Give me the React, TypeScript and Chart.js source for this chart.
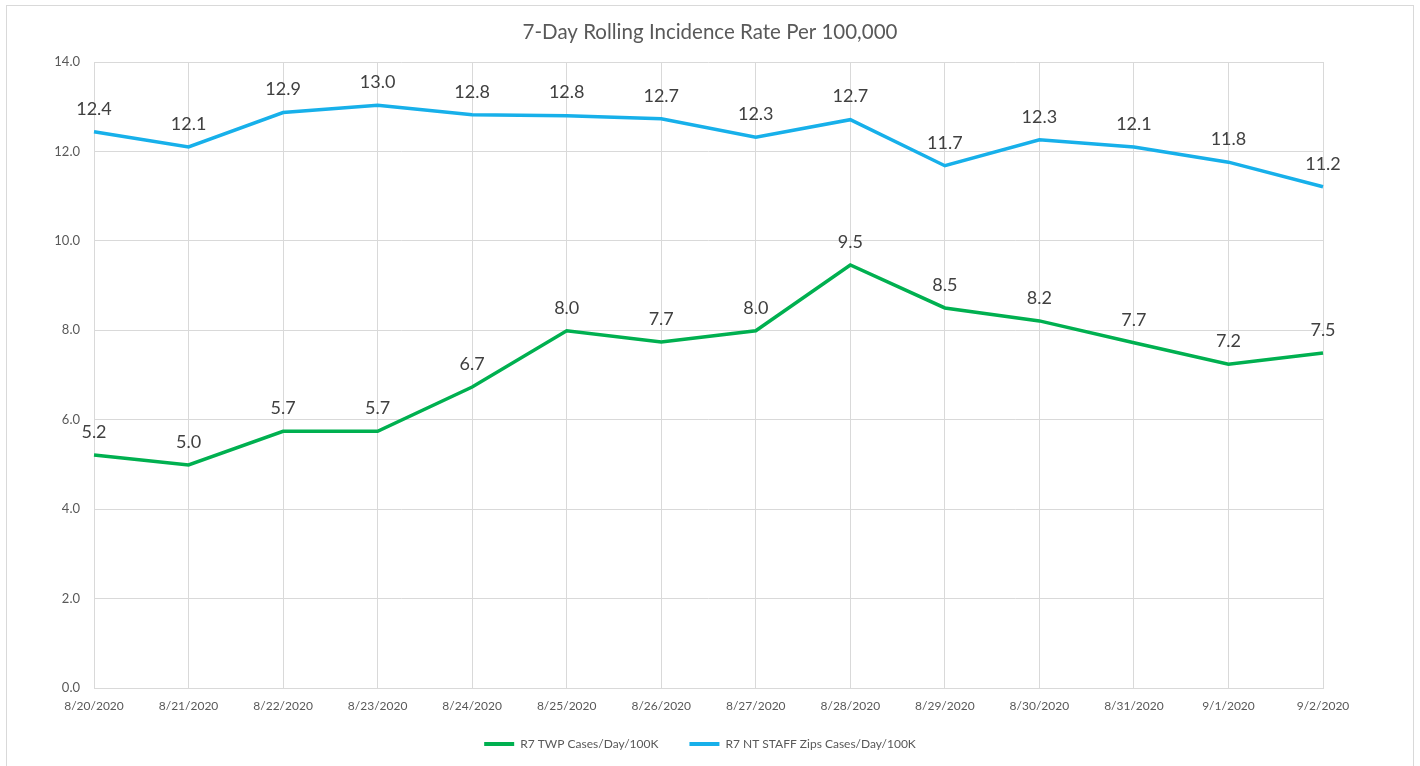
import React, { useEffect, useRef } from "react";
import { Chart, registerables } from "chart.js";

Chart.register(...registerables);

const chartTitle = "7-Day Rolling Incidence Rate Per 100,000";
const categories = [
  "8/20/2020", "8/21/2020", "8/22/2020", "8/23/2020", "8/24/2020", "8/25/2020", "8/26/2020",
  "8/27/2020", "8/28/2020", "8/29/2020", "8/30/2020", "8/31/2020", "9/1/2020", "9/2/2020",
];
const twpLabel = "R7 TWP Cases/Day/100K";
const twpValues = [5.21, 4.99, 5.74, 5.74, 6.73, 7.99, 7.74, 7.99, 9.46, 8.5, 8.21, 7.72, 7.24, 7.49];
const staffLabel = "R7 NT STAFF Zips Cases/Day/100K";
const staffValues = [12.44, 12.1, 12.87, 13.03, 12.82, 12.8, 12.73, 12.32, 12.71, 11.68, 12.26, 12.1, 11.76, 11.21];
const yMin = 0;
const yMax = 14;
const yStep = 2;

const GREEN = "#00b050";
const BLUE = "#17b0ea";
const GRID = "#d9d9d9";
const TEXT = "#595959";
const LABEL = "#404040";

const backgroundPlugin = {
  id: "bgBorder",
  beforeDraw(chart: any) {
    const { ctx, width, height } = chart;
    ctx.save();
    ctx.fillStyle = "#ffffff";
    ctx.fillRect(0, 0, width, height);
    ctx.strokeStyle = GRID;
    ctx.lineWidth = 1;
    ctx.strokeRect(6.5, 5.5, width - 13, height + 10);
    ctx.restore();
  },
};

const legendShiftPlugin = {
  id: "legendShift",
  afterLayout(chart: any) {
    const lg = chart.legend;
    if (lg) {
      lg.left -= 10;
      lg.right -= 10;
      lg.top -= 11;
      lg.height = lg.bottom - lg.top;
    }
  },
};

const valueLabelPlugin = {
  id: "valueLabels",
  afterDatasetsDraw(chart: any) {
    const { ctx } = chart;
    ctx.save();
    ctx.font = "18px Lato";
    ctx.fillStyle = LABEL;
    ctx.textAlign = "center";
    ctx.textBaseline = "middle";
    chart.data.datasets.forEach((ds: any, i: number) => {
      const meta = chart.getDatasetMeta(i);
      meta.data.forEach((pt: any, j: number) => {
        const v = ds.data[j] as number;
        ctx.fillText(v.toFixed(1), pt.x, pt.y - 23);
      });
    });
    ctx.restore();
  },
};

export default function App() {
  const ref = useRef<HTMLCanvasElement | null>(null);
  useEffect(() => {
    if (!ref.current) return;
    Chart.defaults.font.family = "Lato";
    const chart = new Chart(ref.current, {
      type: "line",
      data: {
        labels: categories,
        datasets: [
          {
            label: twpLabel,
            data: twpValues,
            borderColor: GREEN,
            backgroundColor: GREEN,
            borderWidth: 3.5,
            pointRadius: 0,
            tension: 0,
          },
          {
            label: staffLabel,
            data: staffValues,
            borderColor: BLUE,
            backgroundColor: BLUE,
            borderWidth: 3.5,
            pointRadius: 0,
            tension: 0,
          },
        ],
      },
      options: {
        animation: false,
        responsive: false,
        maintainAspectRatio: false,
        layout: { padding: { left: 0, right: 0, top: 0, bottom: 8 } },
        plugins: {
          title: {
            display: true,
            text: chartTitle,
            color: TEXT,
            font: { size: 20.5, weight: "normal", family: "Lato" },
            padding: { top: 20, bottom: 17.4 },
          },
          legend: {
            position: "bottom",
            maxHeight: 40,
            labels: {
              boxWidth: 30,
              boxHeight: 4,
              padding: 31,
              color: TEXT,
              font: { size: 12, family: "Lato" },
              generateLabels(c: any) {
                const items = Chart.defaults.plugins.legend.labels.generateLabels(c);
                return items.map((it: any) => ({ ...it, lineWidth: 0 }));
              },
            },
          },
          tooltip: { enabled: false },
        },
        scales: {
          x: {
            type: "category",
            offset: false,
            grid: { color: GRID, drawTicks: false, offset: false },
            border: { color: GRID },
            ticks: {
              color: TEXT,
              font: { size: 12 },
              padding: 11,
              maxRotation: 0,
              autoSkip: false,
            },
            afterFit(s: any) {
              s.height = 30;
            },
          },
          y: {
            position: "left",
            min: yMin,
            max: yMax,
            grid: { color: GRID, drawTicks: false },
            border: { display: false },
            ticks: {
              stepSize: yStep,
              color: TEXT,
              font: { size: 13 },
              padding: 14,
              callback: (v: any) => Number(v).toFixed(1),
            },
            afterFit(s: any) {
              s.width = 94;
            },
          },
          yRight: {
            type: "linear",
            position: "right",
            display: true,
            grid: { display: false },
            border: { display: false },
            ticks: { display: false },
            afterFit(s: any) {
              s.width = 97;
            },
          },
        },
      },
      plugins: [backgroundPlugin, legendShiftPlugin, valueLabelPlugin],
    } as any);
    return () => chart.destroy();
  }, []);
  return (
    <div style={{ position: "fixed", left: 0, top: 0, width: 1420, height: 766 }}>
      <canvas ref={ref} width={1420} height={766} />
    </div>
  );
}
